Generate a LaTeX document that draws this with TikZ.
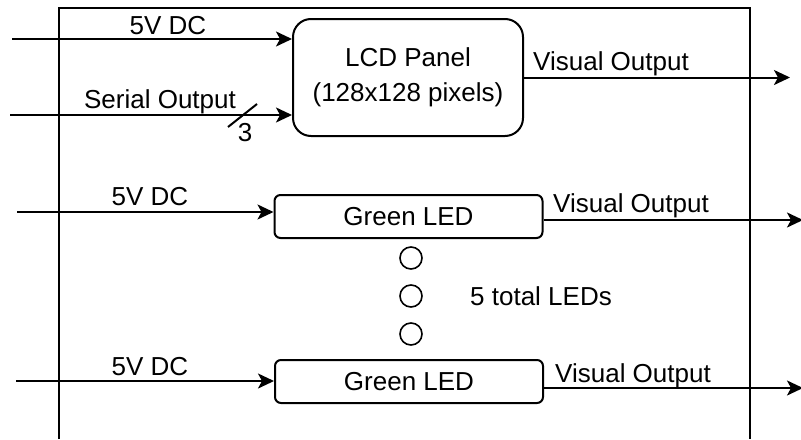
\documentclass[tikz,border=0pt]{standalone}
\usepackage{fontspec}
\setmainfont{Liberation Sans}
\usetikzlibrary{arrows.meta}

\tikzset{
  wire/.style={line width=1pt, -{Stealth[length=8pt,width=7.5pt,inset=2pt]}},
  lcdbox/.style={draw, line width=1pt, rounded corners=9pt, minimum width=115pt, minimum height=58.5pt, align=center, inner sep=0pt},
  ledbox/.style={draw, line width=1pt, rounded corners=3pt, minimum width=134pt, minimum height=21.5pt, inner sep=0pt},
  lbl/.style={inner sep=0pt},
  dotled/.style={draw, circle, line width=0.8pt, minimum size=11pt, inner sep=0pt}
}

\begin{document}
\begin{tikzpicture}[x=0.5pt, y=-0.5pt, font=\fontsize{13}{15.5}\selectfont]
\useasboundingbox (0,0) rectangle (801,439);

% outer box (cut at the bottom)
\draw[line width=1pt] (59,439) -- (59,8) -- (750,8) -- (750,439);

% BLOCKS
\node[lcdbox] (lcd) at (408,77.5) {LCD Panel\\[2pt](128x128 pixels)};
\node[ledbox] (led1) at (408.5,216.5) {Green LED};
\node[ledbox] (led2) at (409,381.5) {Green LED};

\foreach \y [count=\i] in {258,296,334}
  \node[dotled] (dot\i) at (411,\y) {};

% free ends
\coordinate (pwrA) at (12,39);
\coordinate (serA) at (10,115);
\coordinate (visA) at (790,77.5);
\coordinate (pwrB) at (17,212);
\coordinate (visB) at (803,220);
\coordinate (pwrC) at (16,381);
\coordinate (visC) at (803,388);

% ARROWS
\draw[wire] (pwrA) -- (pwrA -| lcd.west);
\draw[wire] (serA) -- (serA -| lcd.west);
\draw[wire] (lcd.east) -- (visA);

\draw[wire] (pwrB) -- (pwrB -| led1.west);
\draw[wire] (visB -| led1.east) -- (visB);

\draw[wire] (pwrC) -- (pwrC -| led2.west);
\draw[wire] (visC -| led2.east) -- (visC);

% bus slash
\coordinate (slA) at (228,127);
\coordinate (slB) at (257,104);
\draw[line width=1pt] (slA) -- (slB);

% NOTES
\node[lbl] (tpwrA) at (168,26) {5V DC};
\node[lbl] (tser) at (160,102) {Serial Output};
\node[lbl] (tbus) at (245,133) {3};
\node[lbl] (tvisA) at (611,64) {Visual Output};

\node[lbl] (tpwrB) at (150,197) {5V DC};
\node[lbl] (tvisB) at (631,206) {Visual Output};

\node[lbl] (tpwrC) at (150,367) {5V DC};
\node[lbl] (tvisC) at (633,376) {Visual Output};

\node[lbl] (tcount) at (541,296) {5 total LEDs};

\end{tikzpicture}
\end{document}
